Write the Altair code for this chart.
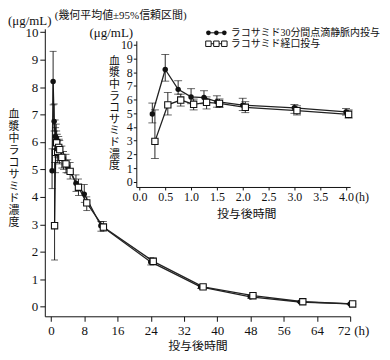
import altair as alt
import pandas as pd

# ---- data (geometric mean and 95% CI, ug/mL) ----
t_nominal = [0.25, 0.5, 0.75, 1.0, 1.25, 1.5, 2.0, 3.0, 4.0, 6, 8, 12, 24, 36, 48, 60, 72]

iv_mean = [4.95, 8.2, 6.75, 6.2, 6.15, 5.85, 5.6, 5.4, 5.1, 4.5, 4.1, 2.95, 1.63, 0.72, 0.36, 0.17, 0.10]
iv_lo = [4.3, 7.35, 6.4, 5.7, 5.7, 5.45, 5.2, 5.0, 4.87, 4.2, 3.8, 2.75, 1.52, 0.66, 0.31, 0.15, 0.08]
iv_hi = [5.75, 9.3, 7.38, 6.8, 6.65, 6.28, 6.1, 5.65, 5.35, 4.8, 4.45, 3.1, 1.78, 0.78, 0.42, 0.20, 0.12]

po_mean = [2.95, 5.62, 5.97, 5.66, 5.8, 5.72, 5.44, 5.2, 4.93, 4.35, 3.78, 2.9, 1.65, 0.72, 0.40, 0.18, 0.10]
po_lo = [1.7, 4.88, 5.53, 5.25, 5.32, 5.42, 5.05, 4.88, 4.65, 4.05, 3.5, 2.75, 1.52, 0.66, 0.36, 0.16, 0.08]
po_hi = [5.25, 6.52, 6.4, 6.04, 6.2, 6.05, 5.85, 5.55, 5.25, 4.65, 4.0, 3.1, 1.78, 0.78, 0.44, 0.20, 0.12]

x_shift_main = {"iv": 0.0, "po": 0.6}     # small horizontal offset used in the figure
x_shift_inset = {"iv": 0.0, "po": 0.05}

main_y_ticks = list(range(0, 11))
main_x_ticks = [0, 8, 16, 24, 32, 40, 48, 56, 64, 72]
inset_y_ticks = list(range(0, 11))
inset_x_ticks = [0.0, 0.5, 1.0, 1.5, 2.0, 2.5, 3.0, 3.5, 4.0]

rows = []
for g, m, lo, hi in [("iv", iv_mean, iv_lo, iv_hi), ("po", po_mean, po_lo, po_hi)]:
    for t, a, b, c in zip(t_nominal, m, lo, hi):
        rows.append({"group": g, "t": t, "conc": a, "lo": b, "hi": c,
                     "xm": t + x_shift_main[g], "xi": t + x_shift_inset[g]})
df = pd.DataFrame(rows)
df_inset = df[df["t"] <= 4.0]

SERIF = "Liberation Serif"
MIX = "Liberation Serif, Noto Sans CJK JP"
CJK = "Noto Sans CJK JP"
INK = "#111"

W, H = 307, 289


def series_marks(data, xfield, xdom, xrange, ydom, yrange, xaxis, yaxis, sq, circ, cap):
    def xs():
        return alt.Scale(domain=xdom, range=xrange, nice=False, zero=False)

    def ys():
        return alt.Scale(domain=ydom, range=yrange, nice=False, zero=False)

    base = alt.Chart(data)
    line = base.mark_line(color="#222", strokeWidth=1.3).encode(
        x=alt.X(f"{xfield}:Q", scale=xs(), axis=xaxis),
        y=alt.Y("conc:Q", scale=ys(), axis=yaxis),
        detail="group:N")
    rule = base.mark_rule(color=INK, strokeWidth=0.9).encode(
        x=alt.X(f"{xfield}:Q", scale=xs(), axis=None),
        y=alt.Y("lo:Q", scale=ys(), axis=None), y2="hi:Q")
    tlo = base.mark_tick(color=INK, orient="horizontal", size=cap, thickness=0.9).encode(
        x=alt.X(f"{xfield}:Q", scale=xs(), axis=None),
        y=alt.Y("lo:Q", scale=ys(), axis=None))
    thi = base.mark_tick(color=INK, orient="horizontal", size=cap, thickness=0.9).encode(
        x=alt.X(f"{xfield}:Q", scale=xs(), axis=None),
        y=alt.Y("hi:Q", scale=ys(), axis=None))
    circles = base.transform_filter(alt.datum.group == "iv").mark_point(
        shape="circle", filled=True, color=INK, size=circ, opacity=1).encode(
        x=alt.X(f"{xfield}:Q", scale=xs(), axis=None),
        y=alt.Y("conc:Q", scale=ys(), axis=None))
    squares = base.transform_filter(alt.datum.group == "po").mark_point(
        shape="square", filled=True, fill="white", stroke=INK, strokeWidth=1.1,
        size=sq, opacity=1).encode(
        x=alt.X(f"{xfield}:Q", scale=xs(), axis=None),
        y=alt.Y("conc:Q", scale=ys(), axis=None))
    return [line, rule, tlo, thi, circles, squares]


axis_common = dict(grid=False, domainColor=INK, tickColor=INK, labelColor=INK,
                   labelFont=SERIF, title=None, domainWidth=1, tickWidth=1)

main_marks = series_marks(
    df, "xm", [-1.5, 72], [0, W], [-0.35, 10.12], [H, 0],
    alt.Axis(values=main_x_ticks, orient="bottom", tickSize=5, labelPadding=3,
             labelFontSize=13, **axis_common),
    alt.Axis(values=main_y_ticks, orient="left", tickSize=5, labelPadding=2,
             labelFontSize=13, **axis_common),
    sq=40, circ=30, cap=7,
)

inset_marks = series_marks(
    df_inset, "xi", [-0.06, 4.08], [92, 307], [-0.38, 10.3], [159, 12],
    alt.Axis(values=inset_x_ticks, format=".1f", orient="bottom", offset=-130, tickSize=3,
             labelPadding=2, labelFontSize=12, **axis_common),
    alt.Axis(values=inset_y_ticks, orient="left", offset=-92, tickSize=3,
             labelPadding=1, labelFontSize=12, **axis_common),
    sq=40, circ=30, cap=8,
)

dummy = pd.DataFrame({"k": [0]})


def text(s, x, y, size=12, align="left", baseline="middle", font=MIX):
    return alt.Chart(dummy).mark_text(
        text=s, fontSize=size, align=align, baseline=baseline, font=font, color=INK
    ).encode(x=alt.value(x), y=alt.value(y))


ytitle_chars = list("血漿中ラコサミド濃度")


def vertical_title(x, y_top, step, size=11):
    return [text(ch, x, y_top + i * step, size=size, align="center", font=CJK)
            for i, ch in enumerate(ytitle_chars)]


annotations = [
    text("(幾何平均値±95%信頼区間)", 10, -13, size=11),
    text("(μg/mL)", -37, -8, size=13),
    text("(μg/mL)", 45, 4, size=13),
    *vertical_title(-31, 87, 12.0),
    *vertical_title(70, 33, 11.7),
    text("投与後時間", 154, 319, size=12, align="center", font=CJK),
    text("投与後時間", 203, 186, size=12, align="center", font=CJK),
    text("(h)", 311, 304, size=13),
    text("(h)", 312, 169, size=12),
    text("ラコサミド30分間点滴静脈内投与", 187, 4, size=10, font=MIX),
    text("ラコサミド経口投与", 187, 15, size=10, font=MIX),
]

legend_marks = []
for yy, shape, filled in [(4, "circle", True), (15, "square", False)]:
    legend_marks.append(
        alt.Chart(dummy).mark_rule(color=INK, strokeWidth=1).encode(
            x=alt.value(163), x2=alt.value(182), y=alt.value(yy)))
    for xx in [164.5, 172.5, 180.5]:
        if filled:
            m = alt.Chart(dummy).mark_point(shape=shape, filled=True, color=INK, size=22, opacity=1)
        else:
            m = alt.Chart(dummy).mark_point(shape=shape, filled=True, fill="white", stroke=INK,
                                            strokeWidth=1, size=30, opacity=1)
        legend_marks.append(m.encode(x=alt.value(xx), y=alt.value(yy)))

chart = alt.layer(*main_marks, *inset_marks, *annotations, *legend_marks).resolve_scale(
    x="independent", y="independent"
).properties(
    width=W, height=H,
    autosize=alt.AutoSizeParams(type="none"),
    padding={"left": 37, "top": 20, "right": 32, "bottom": 42},
).configure_view(stroke=None)

chart.save("out.html", embed_options={"renderer": "svg", "actions": False})
